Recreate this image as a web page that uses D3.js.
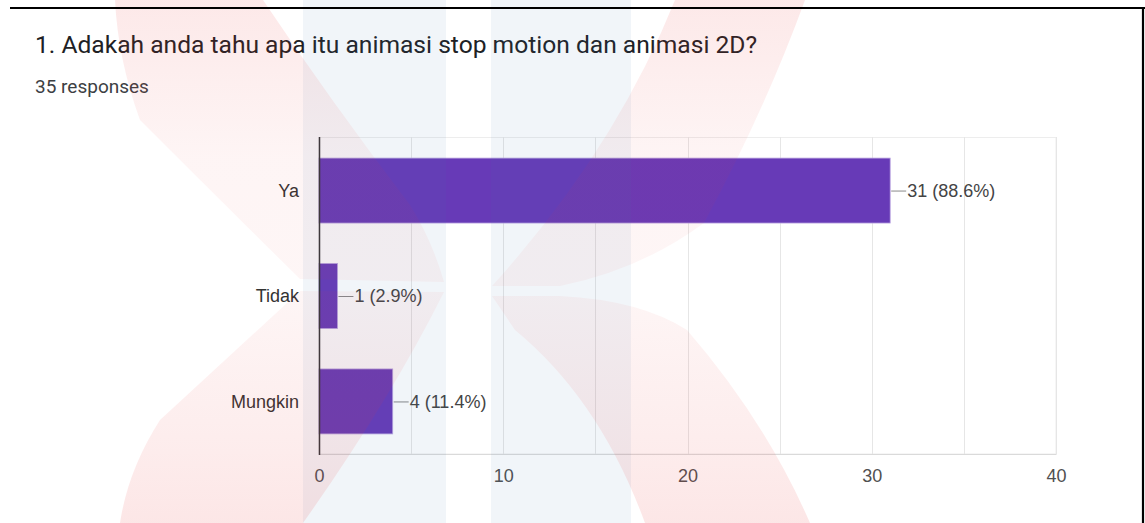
<!DOCTYPE html>
<html>
<head>
<meta charset="utf-8">
<script src="https://cdn.jsdelivr.net/npm/d3@7"></script>
<style>
  html, body { margin: 0; padding: 0; background: #fff; }
  svg { display: block; }
</style>
</head>
<body>
<svg id="chart" width="1145" height="523"></svg>
<script>
// Survey answers and response counts
const categories = ["Ya", "Tidak", "Mungkin"];
const counts = [31, 1, 4];
const totalResponses = 35;
const xTicks = [0, 10, 20, 30, 40];
const gridValues = [5, 10, 15, 20, 25, 30, 35, 40];

const titleText = "1. Adakah anda tahu apa itu animasi stop motion dan animasi 2D?";
const subtitleText = totalResponses + " responses";

const svg = d3.select("#chart");
const W = 1145, H = 523;
const plot = { left: 319, right: 1056, top: 137, bottom: 455 };

const x = d3.scaleLinear().domain([0, 40]).range([plot.left, plot.right]);
const y = d3.scaleBand().domain(categories).range([plot.top, plot.bottom])
  .paddingInner(0.384).paddingOuter(0.2);

const chartFont = "'Liberation Sans', Arial, sans-serif";
const labelSize = 18;

// Header
svg.append("text").attr("x", 35).attr("y", 53)
  .attr("font-family", "Roboto, sans-serif").attr("font-size", 24.6)
  .attr("fill", "#202124").text(titleText);
svg.append("text").attr("x", 35).attr("y", 93)
  .attr("font-family", "Roboto, sans-serif").attr("font-size", 19)
  .attr("fill", "#3c4043").text(subtitleText);

// Plot frame and vertical gridlines
const g = svg.append("g");
g.append("rect").attr("x", plot.left).attr("y", plot.top + 0.5)
  .attr("width", plot.right - plot.left).attr("height", plot.bottom - plot.top - 1.5)
  .attr("fill", "none").attr("stroke", "#ededed").attr("stroke-width", 1);
g.selectAll("line.grid").data(gridValues).join("line")
  .attr("class", "grid")
  .attr("x1", d => Math.round(x(d)) + 0.5).attr("x2", d => Math.round(x(d)) + 0.5)
  .attr("y1", plot.top).attr("y2", plot.bottom - 1)
  .attr("stroke", "#e6e6e6").attr("stroke-width", 1);

// Bottom axis tick labels
const xAxis = d3.axisBottom(x).tickValues(xTicks).tickSize(0).tickPadding(0);
const xg = svg.append("g").attr("transform", `translate(0,${plot.bottom - 1})`).call(xAxis);
xg.select(".domain").attr("stroke", "#dadada");
xg.selectAll("text").attr("font-family", chartFont).attr("font-size", labelSize)
  .attr("fill", "#505050").attr("dy", 0).attr("y", 28);

// Category labels
const yAxis = d3.axisLeft(y).tickSize(0).tickPadding(20);
const yg = svg.append("g").attr("transform", `translate(${plot.left},0)`).call(yAxis);
yg.select(".domain").remove();
yg.selectAll("text").attr("font-family", chartFont).attr("font-size", labelSize)
  .attr("fill", "#333").attr("dy", "0.36em");

// Bars
const rows = categories.map((c, i) => ({ cat: c, v: counts[i] }));
svg.selectAll("rect.bar").data(rows).join("rect")
  .attr("class", "bar")
  .attr("x", x(0)).attr("y", d => y(d.cat))
  .attr("width", d => x(d.v) - x(0)).attr("height", y.bandwidth())
  .attr("fill", "#673ab7").attr("stroke", "#b9a3e0").attr("stroke-width", 0.8);

// Value labels with leader lines
const fmt = d => `${d.v} (${(d.v / totalResponses * 100).toFixed(1)}%)`;
svg.selectAll("line.leader").data(rows).join("line")
  .attr("class", "leader")
  .attr("x1", d => x(d.v) + 1).attr("x2", d => x(d.v) + 16)
  .attr("y1", d => y(d.cat) + y.bandwidth() / 2 + 0.5)
  .attr("y2", d => y(d.cat) + y.bandwidth() / 2 + 0.5)
  .attr("stroke", "#8a8a8a").attr("stroke-width", 1);
svg.selectAll("text.value").data(rows).join("text")
  .attr("class", "value")
  .attr("x", d => x(d.v) + 17).attr("y", d => y(d.cat) + y.bandwidth() / 2)
  .attr("dy", "0.36em")
  .attr("font-family", chartFont).attr("font-size", labelSize)
  .attr("fill", "#444").text(fmt);

// Vertical baseline
svg.append("line").attr("x1", plot.left + 0.5).attr("x2", plot.left + 0.5)
  .attr("y1", plot.top).attr("y2", plot.bottom)
  .attr("stroke", "#333").attr("stroke-width", 1.5);

// Translucent background emblem laid over the page
const defs = svg.append("defs");
const grad = defs.append("linearGradient").attr("id", "pinkFade")
  .attr("gradientUnits", "userSpaceOnUse").attr("x1", 0).attr("y1", 0).attr("x2", 0).attr("y2", H);
[[0, 0.11], [0.3, 0.05], [0.55, 0.045], [0.85, 0.09], [1, 0.12]].forEach(([o, a]) =>
  grad.append("stop").attr("offset", o).attr("stop-color", "rgb(232,50,50)").attr("stop-opacity", a));

const wm = svg.append("g").attr("pointer-events", "none");
const blue = "rgba(70,120,180,0.075)";
wm.append("rect").attr("x", 303).attr("y", 0).attr("width", 143).attr("height", H).attr("fill", blue);
wm.append("rect").attr("x", 491).attr("y", 0).attr("width", 140).attr("height", H).attr("fill", blue);
// four curved arms of the emblem
wm.append("path").attr("fill", "url(#pinkFade)")
  .attr("d", "M115,0 L263,0 Q330,100 410,205 Q432,240 444,282 L300,279 Q220,200 140,120 Q118,60 115,0 Z");
wm.append("path").attr("fill", "url(#pinkFade)")
  .attr("d", "M300,291 L444,292 Q390,400 303,523 L120,523 Q128,470 160,420 Z");
wm.append("path").attr("fill", "url(#pinkFade)")
  .attr("d", "M675,0 L805,0 Q765,110 704,223 Q640,270 560,286 L492,286 Q615,150 675,0 Z");
wm.append("path").attr("fill", "url(#pinkFade)")
  .attr("d", "M492,296 L560,296 Q640,300 687,330 Q765,420 810,523 L645,523 Q600,400 515,330 Z");

// Page border
svg.append("line").attr("x1", 10).attr("x2", W).attr("y1", 8).attr("y2", 8)
  .attr("stroke", "#000").attr("stroke-width", 2.2);
svg.append("line").attr("x1", 1143).attr("x2", 1143).attr("y1", 7).attr("y2", H)
  .attr("stroke", "#000").attr("stroke-width", 2.2);
</script>
</body>
</html>
